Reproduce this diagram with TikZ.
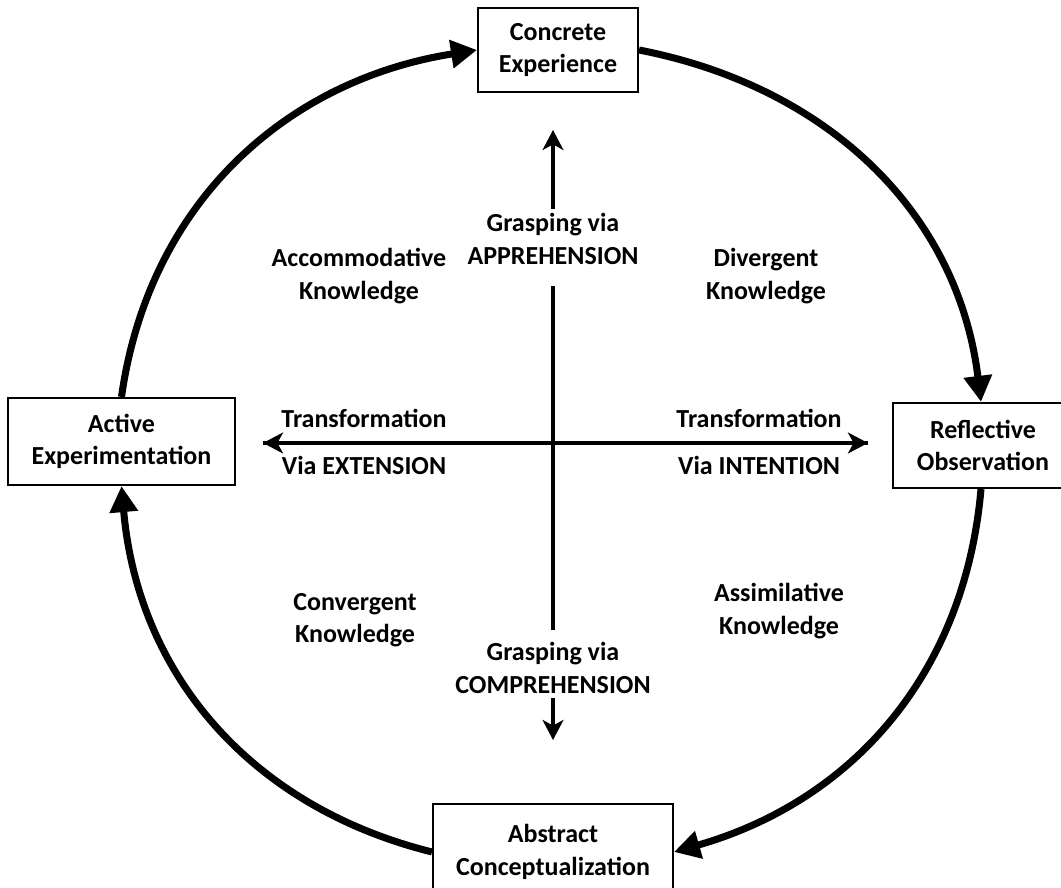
\documentclass[tikz,border=0pt]{standalone}
\usepackage{fontspec}
\setmainfont{Carlito}
\usetikzlibrary{positioning,arrows.meta}

\begin{document}
\begin{tikzpicture}[x=0.025cm,y=0.025cm]
                \tikzstyle{every node}=[font=\fontsize{18.5}{23}\selectfont\bfseries, align=center]
                \tikzstyle{stage}=[draw, line width=1.4pt, inner sep=0pt]
                \tikzstyle{cycle}=[line width=5pt, -{Triangle[length=0.65cm,width=0.68cm]}]
                \tikzstyle{axis}=[line width=2.4pt]
                \tikzstyle{tip}=[-{Stealth[length=0.5cm,width=0.52cm,inset=0.14cm]}]
                \useasboundingbox (0,0) rectangle (1061,888);
                % the four stages
                \node (ce) [stage, minimum width=4cm, minimum height=2.1cm]     at (558,838)     { Concrete \\ Experience };
                \node (ro) [stage, minimum width=4.8cm, minimum height=2.13cm]  at (989,442.5)   { \hspace*{-0.3cm}Reflective \\ \hspace*{-0.3cm}Observation };
                \node (ac) [stage, minimum width=6cm, minimum height=2.38cm]    at (553,36)      { Abstract \\ Conceptualization };
                \node (ae) [stage, minimum width=5.68cm, minimum height=2.18cm] at (121.5,446.5) { Active \\ Experimentation };
                % grasping and transformation
                \node (grA) [inner sep=3pt]  at (553,649) { Grasping via \\ APPREHENSION };
                \node (grC) [inner sep=3pt]  at (553,220) { Grasping via \\ COMPREHENSION };
                \node (tl)  [anchor=base]    at (367,460) { Transformation };
                \node (vl)  [anchor=base]    at (367,413) { Via EXTENSION };
                \node (tr)  [anchor=base]    at (762,460) { Transformation };
                \node (vr)  [anchor=base]    at (762,413) { Via INTENTION };
                % forms of knowledge
                \node (accom) at (359,612) { Accommodative \\ Knowledge };
                \node (diver) at (766,612) { Divergent \\ Knowledge };
                \node (conv)  at (355,268) { Convergent \\ Knowledge };
                \node (assim) at (779,277) { Assimilative \\ Knowledge };
                \coordinate (vtop)   at (553,758);
                \coordinate (vbot)   at (553,148);
                \coordinate (hleft)  at (263,445);
                \coordinate (hright) at (868,445);
                \draw[cycle] (ae.north) to[out=82,in=189]  (ce.west);
                \draw[cycle] (ce.east)  to[out=-11,in=97]  ([xshift=-0.2cm]ro.north);
                \draw[cycle] ([xshift=-0.2cm]ro.south) to[out=-95,in=16]  (ac.east);
                \draw[cycle] (ac.west)  to[out=166,in=-85] (ae.south);
                \draw[axis, tip] (grA.north) -- (vtop);
                \draw[axis, shorten <=12pt, shorten >=6pt] (grA.south) -- (grC.north);
                \draw[axis, tip] (grC.south) -- (vbot);
                \draw[axis, tip] (hleft) -- (hright);
                \draw[axis, tip] (hright) -- (hleft);
            \end{tikzpicture}
\end{document}
